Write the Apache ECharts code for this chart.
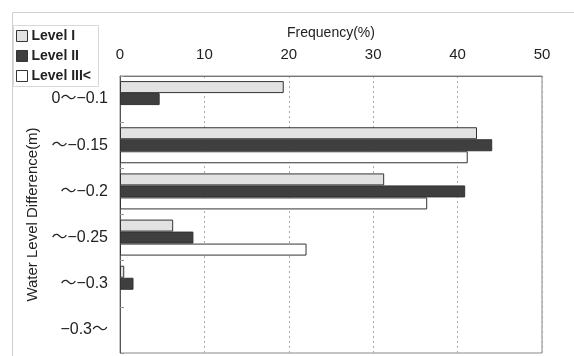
<!DOCTYPE html>
<html>
<head>
<meta charset="utf-8">
<script src="https://cdn.jsdelivr.net/npm/echarts@6/dist/echarts.min.js"></script>
<style>
  html, body { margin: 0; padding: 0; background: #fff; }
  #chart { width: 574px; height: 356px; }
</style>
</head>
<body>
<div id="chart"></div>
<script>
// water level difference classes (top to bottom)
const categories = ["0〜−0.1", "〜−0.15", "〜−0.2", "〜−0.25", "〜−0.3", "−0.3〜"];
const seriesNames = ["Level I", "Level II", "Level III<"];
const levelI = [19.4, 42.3, 31.3, 6.3, 0.5, 0];
const levelII = [4.7, 44.1, 40.9, 8.7, 1.6, 0];
const levelIII = [0, 41.2, 36.4, 22.1, 0, 0];
const xTicks = [0, 10, 20, 30, 40, 50];

const font = "'Liberation Sans', 'Noto Sans CJK JP', sans-serif";
const chart = echarts.init(document.getElementById("chart"));

const barStyle = (fill) => ({
  color: fill,
  borderColor: "#333",
  borderWidth: 1,
});
// zero frequencies draw no bar at all
const bars = (arr) => arr.map((v) => (v === 0 ? null : v));

chart.setOption({
  animation: false,
  backgroundColor: "#fff",
  textStyle: { fontFamily: font },
  graphic: [
    {
      type: "polyline",
      shape: { points: [[12.5, 356], [12.5, 12.5], [574, 12.5]] },
      style: { stroke: "#cfcfcf", lineWidth: 1, fill: null },
      silent: true,
    },
    {
      type: "rect",
      shape: { x: 13.5, y: 25.5, width: 85, height: 61 },
      style: { stroke: "#d8d8d8", lineWidth: 1, fill: "#fff" },
      z: 0,
      silent: true,
    },
  ],
  legend: {
    orient: "vertical",
    left: 14,
    top: 27,
    icon: "rect",
    itemWidth: 11,
    itemHeight: 11,
    itemGap: 6,
    padding: [2, 2],
    itemStyle: { borderColor: "#333", borderWidth: 1 },
    textStyle: { fontSize: 14, fontWeight: "bold", color: "#222", padding: [0, 0, 0, -1], fontFamily: font },
    data: seriesNames,
    z: 10,
  },
  grid: {
    left: 120, right: 32, top: 76, bottom: 3,
    show: true, borderColor: "#888", borderWidth: 1,
  },
  xAxis: {
    type: "value",
    position: "top",
    min: xTicks[0],
    max: xTicks[xTicks.length - 1],
    interval: 10,
    name: "Frequency(%)",
    nameLocation: "middle",
    nameGap: 36,
    nameMoveOverlap: false,
    nameTextStyle: { fontSize: 14, color: "#222", fontFamily: font },
    axisLine: { show: true, lineStyle: { color: "#777" } },
    axisTick: { show: false },
    axisLabel: { fontSize: 15, color: "#222", margin: 14, fontFamily: font },
    splitLine: { show: true, lineStyle: { color: "#aaa", type: [2, 3] } },
  },
  yAxis: {
    type: "category",
    inverse: true,
    data: categories,
    name: "Water Level Difference(m)",
    nameLocation: "middle",
    nameGap: 80,
    nameMoveOverlap: false,
    nameRotate: 90,
    nameTextStyle: { fontSize: 15, color: "#222", fontFamily: font },
    axisLine: { show: true, lineStyle: { color: "#555" } },
    axisTick: { show: true, inside: true, length: 4, lineStyle: { color: "#999" } },
    axisLabel: { fontSize: 16, color: "#222", margin: 12, fontFamily: font },
  },
  series: [
    {
      name: seriesNames[0],
      type: "bar",
      data: bars(levelI),
      barGap: "0%",
      barCategoryGap: "22%",
      itemStyle: barStyle("#e2e2e2"),
    },
    {
      name: seriesNames[1],
      type: "bar",
      data: bars(levelII),
      itemStyle: barStyle("#3f3f3f"),
    },
    {
      name: seriesNames[2],
      type: "bar",
      data: bars(levelIII),
      itemStyle: barStyle("#ffffff"),
    },
  ],
});
</script>
</body>
</html>
